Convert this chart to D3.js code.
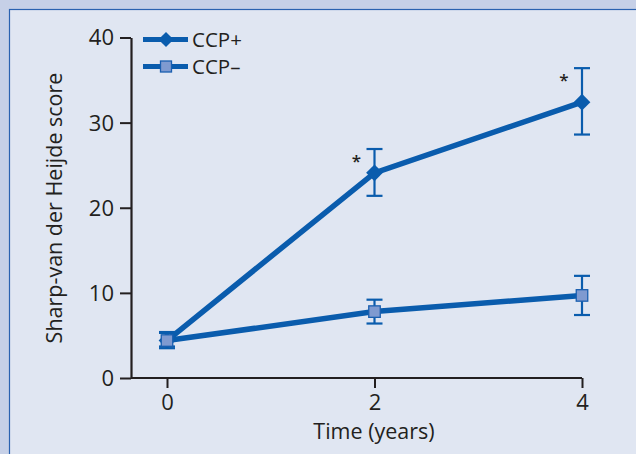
<!DOCTYPE html>
<html><head><meta charset="utf-8">
<script src="https://cdn.jsdelivr.net/npm/d3@7"></script>
<style>body{margin:0;padding:0;overflow:hidden;background:#c6d0e7}</style>
</head><body>
<svg id="c" width="636" height="454"></svg>
<script>
const times = [0, 2, 4];
const ccpPlus = [4.4, 24.1, 32.4];
const ccpPlusLo = [3.7, 21.4, 28.6];
const ccpPlusHi = [5.3, 26.9, 36.4];
const ccpMinus = [4.4, 7.8, 9.7];
const ccpMinusLo = [3.5, 6.4, 7.4];
const ccpMinusHi = [5.4, 9.2, 12.0];
const yTicks = [0, 10, 20, 30, 40];
const xTicks = [0, 2, 4];
const signif = [false, true, true];
const seriesNames = ["CCP+", "CCP\u2013"];

const svg = d3.select("#c");
const font = "'Open Sans', 'Noto Sans', sans-serif";
const blue = "#0a5cad";
const ink = "#231f20";

svg.append("rect").attr("x",0).attr("y",0).attr("width",636).attr("height",454).attr("fill","#c6d0e7");
svg.append("rect").attr("x",9.5).attr("y",9.5).attr("width",640).attr("height",460)
  .attr("fill","#e0e6f2").attr("stroke","#2a62b0").attr("stroke-width",1.2);

const x = d3.scaleLinear().domain([0,4]).range([167,582]);
const y = d3.scaleLinear().domain([0,40]).range([378,37.5]);
const axisX0 = 131;

// y axis
const ya = svg.append("g").attr("transform",`translate(${axisX0},0)`)
  .call(d3.axisLeft(y).tickValues(yTicks).tickFormat(d3.format("d")).tickSize(11).tickSizeOuter(0).tickPadding(6));
ya.select(".domain").attr("stroke",ink).attr("stroke-width",2.2);
ya.selectAll(".tick line").attr("stroke",ink).attr("stroke-width",2);
ya.selectAll(".tick text").attr("font-family",font).attr("font-size",22).attr("fill",ink).attr("dy","0.34em");

// x axis
const xa = svg.append("g").attr("transform",`translate(0,${y(0)})`)
  .call(d3.axisBottom(x).tickValues(xTicks).tickFormat(d3.format("d")).tickSize(10).tickSizeOuter(0).tickPadding(6));
xa.select(".domain").attr("d",`M${axisX0},0H${x(4)}`).attr("stroke",ink).attr("stroke-width",2.2);
xa.selectAll(".tick line").attr("stroke",ink).attr("stroke-width",2);
xa.selectAll(".tick text").attr("font-family",font).attr("font-size",22).attr("fill",ink);

// axis titles
svg.append("text").attr("transform",`translate(62,208) rotate(-90)`).attr("text-anchor","middle")
  .attr("font-family",font).attr("font-size",21.5).attr("fill",ink).text("Sharp-van der Heijde score");
svg.append("text").attr("x",374).attr("y",439).attr("text-anchor","middle")
  .attr("font-family",font).attr("font-size",21.5).attr("fill",ink).text("Time (years)");

function errorBars(vals, lo, hi) {
  const g = svg.append("g").attr("stroke",blue).attr("stroke-width",2.2).attr("fill","none");
  times.forEach((t,i)=>{
    const cx = x(t);
    g.append("line").attr("x1",cx).attr("x2",cx).attr("y1",y(lo[i])).attr("y2",y(hi[i]));
    g.append("line").attr("x1",cx-8).attr("x2",cx+8).attr("y1",y(lo[i])).attr("y2",y(lo[i]));
    g.append("line").attr("x1",cx-8).attr("x2",cx+8).attr("y1",y(hi[i])).attr("y2",y(hi[i]));
  });
}
errorBars(ccpPlus, ccpPlusLo, ccpPlusHi);
errorBars(ccpMinus, ccpMinusLo, ccpMinusHi);

const line = d3.line().x((d,i)=>x(times[i])).y(d=>y(d));
svg.append("path").datum(ccpPlus).attr("d",line).attr("fill","none").attr("stroke",blue).attr("stroke-width",5.5);
svg.append("path").datum(ccpMinus).attr("d",line).attr("fill","none").attr("stroke",blue).attr("stroke-width",5.5);

function drawDiamond(cx, cy, s) {
  svg.append("path").attr("d", d3.symbol().type(d3.symbolSquare).size(s)())
    .attr("transform",`translate(${cx},${cy}) rotate(45)`).attr("fill",blue);
}
function drawSquare(cx, cy, s) {
  svg.append("rect").attr("x",cx-s/2).attr("y",cy-s/2).attr("width",s).attr("height",s)
    .attr("fill","#7f9ad0").attr("stroke","#1a5fb0").attr("stroke-width",1.3);
}
ccpPlus.forEach((v,i)=>drawDiamond(x(times[i]), y(v), 140));
ccpMinus.forEach((v,i)=>drawSquare(x(times[i]), y(v), 11.5));

// significance asterisks
times.forEach((t,i)=>{
  if (signif[i]) svg.append("text").attr("x",x(t)-18).attr("y",y(ccpPlusHi[i])+18)
    .attr("text-anchor","middle").attr("font-family",font).attr("font-size",17).attr("font-weight",600).attr("fill",ink).text("*");
});

// legend
const lg = [{y:39.5, name:seriesNames[0], mark:"d"},{y:66.5, name:seriesNames[1], mark:"s"}];
lg.forEach(d=>{
  svg.append("line").attr("x1",143).attr("x2",188).attr("y1",d.y).attr("y2",d.y).attr("stroke",blue).attr("stroke-width",5);
  if (d.mark==="d") drawDiamond(166, d.y, 115); else drawSquare(166, d.y, 11);
  svg.append("text").attr("x",192).attr("y",d.y).attr("dy","0.36em").attr("font-family",font)
    .attr("font-size",20.5).attr("fill",ink).text(d.name);
});
</script>
</body></html>
